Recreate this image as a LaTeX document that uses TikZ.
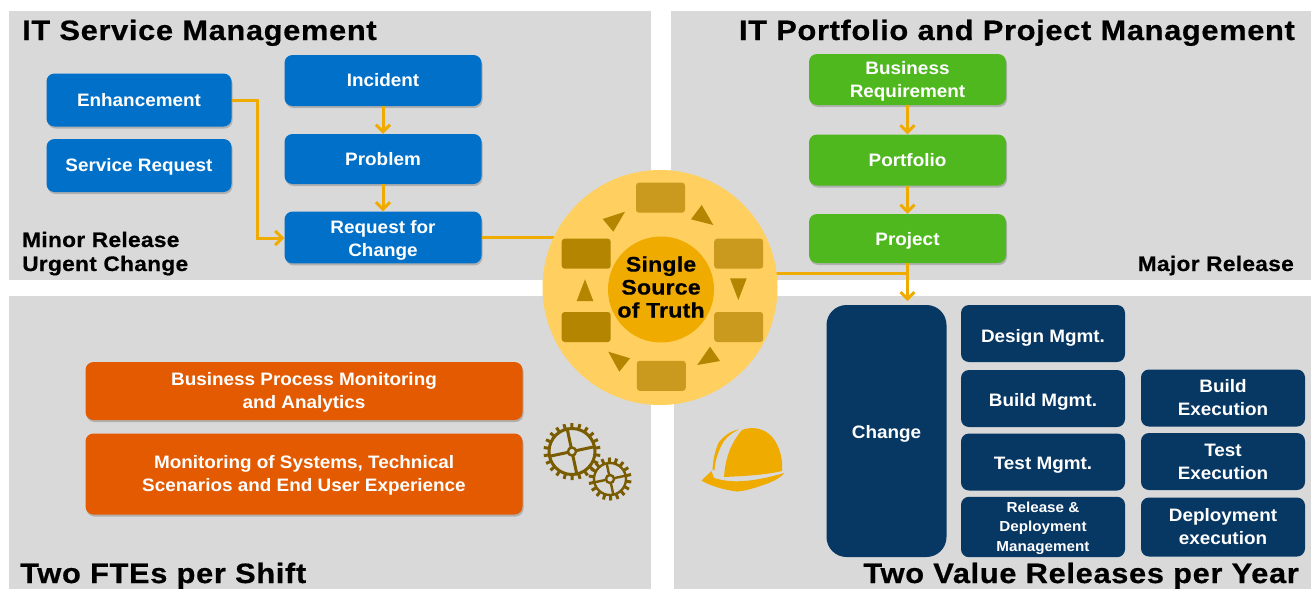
\documentclass[tikz,border=0pt]{standalone}
\usepackage{fontspec}
\setmainfont{Liberation Sans}
\newfontfamily\headf[UprightFont=* Bold,FakeStretch=1.1,LetterSpace=2.4,FakeBold=0.6]{Liberation Sans}
\newfontfamily\subf[UprightFont=* Bold,FakeStretch=1.08,LetterSpace=1.5,FakeBold=0.5]{Liberation Sans}
\newfontfamily\coref[UprightFont=* Bold,FakeStretch=1.1,LetterSpace=1,FakeBold=0.5]{Liberation Sans}
\newfontfamily\boxf[UprightFont=* Bold,FakeStretch=1.05]{Liberation Sans}
\usetikzlibrary{shadows,arrows.meta,calc}
\definecolor{panel}{HTML}{D9D9D9}
\definecolor{bluebox}{HTML}{0070C8}
\definecolor{greenbox}{HTML}{4FB81E}
\definecolor{orangebox}{HTML}{E35A00}
\definecolor{navybox}{HTML}{073763}
\definecolor{amberline}{HTML}{F0AB00}
\definecolor{discouter}{HTML}{FFCF5F}
\definecolor{dark}{HTML}{B38500}
\definecolor{mid}{HTML}{C99A1E}
\definecolor{gearcol}{HTML}{7A5C00}
\tikzset{
 x=1pt,y=-1pt,
 panelbox/.style={fill=panel,draw=none},
 riseh/.style={execute at begin node={\rule{0pt}{#1pt}}},
 boxbase/.style={rounded corners=8pt,draw=none,text=white,font=\boxf\fontsize{18}{23}\selectfont,align=center,inner sep=0pt,anchor=center},
 shadowed/.style={drop shadow={shadow xshift=1pt,shadow yshift=-2pt,opacity=.45}},
 bluenode/.style={boxbase,shadowed,fill=bluebox},
 greennode/.style={boxbase,shadowed,fill=greenbox},
 orangenode/.style={boxbase,shadowed,fill=orangebox},
 navynode/.style={boxbase,fill=navybox},
 flow/.style={draw=amberline,line width=3pt,-{Straight Barb[length=7pt,width=14pt,line width=3pt]}},
 plainflow/.style={draw=amberline,line width=3pt},
 heading/.style={font=\headf\fontsize{28}{30}\selectfont,text=black,inner sep=0pt},
 subhead/.style={font=\subf\fontsize{21}{25}\selectfont,text=black,inner sep=0pt,align=left},
 ringbox/.style={rounded corners=3pt,draw=none,minimum width=49pt,minimum height=30pt,inner sep=0pt},
 ringtri/.style={fill=dark,draw=none},
}
\newcommand{\boxat}[6]{\node[#1,minimum width=#4 pt,minimum height=#5 pt] (#2) at (#3) {#6};}
\newcommand{\lines}[2]{\begin{tabular}{@{}c@{}}\rule{0pt}{#1pt}#2\end{tabular}}
\newcommand{\gearshape}[5]{% cx,cy,r,teeth,width
 \foreach \a in {1,...,#4}{\draw[gearcol,line width=3pt] ($(#1,#2)+({\a*360/#4+8}:#3)$) -- ($(#1,#2)+({\a*360/#4+8}:#3+5.5)$);}
 \draw[gearcol,line width=#5] (#1,#2) circle[radius=#3];
 \foreach \a in {-12,78,168,258}{\draw[gearcol,line width=#5] ($(#1,#2)+(\a:3.5)$) -- ($(#1,#2)+(\a:#3)$);}
 \draw[gearcol,line width=2.4pt,fill=panel] (#1,#2) circle[radius=4];
}
\begin{document}
\begin{tikzpicture}
\useasboundingbox (0,0) rectangle (1311,589);
\fill[white] (0,0) rectangle (1311,589);
\fill[panelbox] (9,11) rectangle (651,280);
\fill[panelbox] (671,11) rectangle (1311,280);
\fill[panelbox] (9,296) rectangle (651,589);
\fill[panelbox] (674,296) rectangle (1311,589);

\node[heading,anchor=base west] (t1) at (22,40) {IT Service Management};
\node[heading,anchor=base east] (t2) at (1295,40) {IT Portfolio and Project Management};
\node[subhead,anchor=base west] (s1) at (22,247) {Minor Release};
\node[subhead,anchor=base west] (s2) at (22,271) {Urgent Change};
\node[subhead,anchor=base east] (s3) at (1294,271) {Major Release};
\node[heading,anchor=base west] (s4) at (20,583) {Two FTEs per Shift};
\node[heading,anchor=base east] (s5) at (1299,583) {Two Value Releases per Year};

% blue
\boxat{bluenode}{enh}{139,100}{185}{53}{Enhancement}
\boxat{bluenode,riseh=16}{srq}{139,165.5}{185}{53}{Service Request}
\boxat{bluenode}{inc}{383,80.5}{197}{51}{Incident}
\boxat{bluenode}{prb}{383,159}{197}{50}{Problem}
\boxat{bluenode}{rfc}{383,237.5}{197}{51}{\lines{22}{Request for\\Change}}
% green
\boxat{greennode}{brq}{907.5,79.5}{197}{51}{\lines{20}{Business\\Requirement}}
\boxat{greennode}{ptf}{907.5,160}{197}{51}{Portfolio}
\boxat{greennode,riseh=17}{prj}{907.5,238.5}{197}{49}{Project}
% orange
\boxat{orangenode}{bpm}{304,391}{437}{58}{\lines{19}{Business Process Monitoring\\and Analytics}}
\boxat{orangenode}{mon}{304,474}{437}{81}{\lines{18}{Monitoring of Systems, Technical\\Scenarios and End User Experience}}
% navy
\node[navynode,riseh=19,rounded corners=20pt,minimum width=120pt,minimum height=252pt] (chg) at (886.5,431) {Change};
\boxat{navynode,riseh=21}{dsg}{1043,333.5}{164}{57}{Design Mgmt.}
\boxat{navynode,riseh=19}{bld}{1043,398.5}{164}{57}{Build Mgmt.}
\boxat{navynode,riseh=19}{tst}{1043,462}{164}{57}{Test Mgmt.}
\node[navynode,font=\boxf\fontsize{14.5}{19.5}\selectfont,minimum width=164pt,minimum height=59pt] (rel) at (1043,527) {\lines{15.6}{Release \&\\Deployment\\Management}};
\boxat{navynode}{bex}{1223,398}{164}{57}{Build\\Execution}
\boxat{navynode}{tex}{1223,461.5}{164}{57}{Test\\Execution}
\boxat{navynode}{dex}{1223,527}{164}{59}{Deployment\\execution}

% connectors
\coordinate (rfcout) at (600,237.5);
\coordinate (elbow1) at (257,100);
\coordinate (elbow2) at (257,238);
\draw[flow] (inc.south) -- (prb.north);
\draw[flow] (prb.south) -- (rfc.north);
\draw[flow] (enh.east) -- (elbow1) -- (elbow2) -- (rfc.west |- elbow2);
\draw[flow] (brq.south) -- (ptf.north);
\draw[flow] (ptf.south) -- (prj.north);
\draw[plainflow] (rfc.east) -- (rfcout);
\coordinate (sstart) at (700,273);
\coordinate (mergept) at (907.5,273);
\draw[plainflow] (sstart) -- (mergept);
\draw[flow] (prj.south) -- ($(prj.south)+(0,38)$);

% disc
\node[circle,fill=discouter,draw=none,minimum size=235pt,inner sep=0pt] (disc) at (660,287.5) {};
\node[circle,fill=amberline,draw=none,minimum size=106pt,inner sep=0pt] (core) at (661,289.5) {};
\node[font=\coref\fontsize{21}{23}\selectfont,align=center,text=black,inner sep=0pt] (coretxt) at (661,287) {Single\\Source\\of Truth};
\node[ringbox,fill=mid] (r1) at (660.5,197.7) {};
\node[ringbox,fill=mid] (r2) at (738.7,253.7) {};
\node[ringbox,fill=mid] (r3) at (738.7,327) {};
\node[ringbox,fill=mid] (r4) at (661.3,375.8) {};
\node[ringbox,fill=dark] (r5) at (586.2,327) {};
\node[ringbox,fill=dark] (r6) at (586.2,253.7) {};
\fill[ringtri] (701.7,205) -- (691,219.3) -- (713.3,225) -- cycle;
\fill[ringtri] (730,278.3) -- (746.7,278.3) -- (738.3,300) -- cycle;
\fill[ringtri] (710,346.7) -- (697.3,365) -- (720,361) -- cycle;
\fill[ringtri] (608.3,351.7) -- (630,358.3) -- (619.3,371.7) -- cycle;
\fill[ringtri] (585,279.3) -- (576.7,301) -- (593.3,301) -- cycle;
\fill[ringtri] (602.7,219) -- (625,211.7) -- (613.3,231.7) -- cycle;

% gears
\gearshape{572}{451.5}{23}{22}{3pt}
\gearshape{610}{479}{16}{18}{2.4pt}

% hat
\fill[amberline] (724,477) .. controls (725,462) and (729,445) .. (742,430) .. controls (752,426) and (765,428) .. (773,438) .. controls (780,447) and (783,460) .. (782,471) .. controls (765,475) and (745,476) .. (724,477) -- cycle;
\fill[amberline] (712.5,470) .. controls (713,458) and (716,448) .. (719,442) .. controls (724,436) and (730,431) .. (739,429.5) .. controls (733,432) and (728,436) .. (724,441) .. controls (719,449) and (715,460) .. (714.5,470) -- cycle;
\fill[amberline] (701.5,480.5) -- (711.5,471) -- (714,478) .. controls (730,483) and (750,483) .. (784,473) .. controls (781,478) and (770,483) .. (763,485) .. controls (755,488) and (745,491) .. (737,491.5) .. controls (725,490) and (710,486) .. (701.5,480.5) -- cycle;
\end{tikzpicture}
\end{document}
